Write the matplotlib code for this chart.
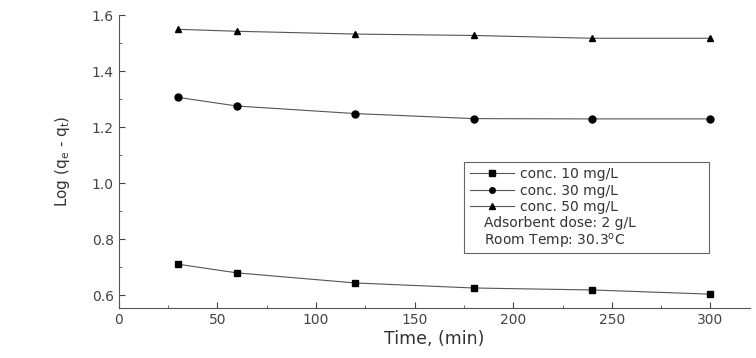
import matplotlib.pyplot as plt
from matplotlib.patches import Rectangle
from matplotlib.ticker import MultipleLocator

# data
time_min = [30, 60, 120, 180, 240, 300]
conc10 = [0.710, 0.679, 0.643, 0.625, 0.618, 0.603]
conc30 = [1.306, 1.275, 1.248, 1.230, 1.229, 1.229]
conc50 = [1.549, 1.542, 1.532, 1.527, 1.517, 1.517]
labels = ['conc. 10 mg/L', 'conc. 30 mg/L', 'conc. 50 mg/L']
notes = ['Adsorbent dose: 2 g/L', 'Room Temp: 30.3$^{\\mathregular{o}}$C']

plt.rcParams['font.family'] = ['DejaVu Sans']

fig = plt.figure(figsize=(7.56, 3.58), dpi=100)
ax = fig.add_axes([0.157, 0.140, 0.835, 0.818])

markers = ['s', 'o', '^']
for y, lab, m in zip([conc10, conc30, conc50], labels, markers):
    ax.plot(time_min, y, color='#555555', lw=0.8, marker=m, ms=5,
            mfc='black', mec='black', label=lab)

ax.set_xlim(0, 320)
ax.set_ylim(0.554, 1.6)
ax.xaxis.set_major_locator(MultipleLocator(50))
ax.xaxis.set_minor_locator(MultipleLocator(25))
ax.yaxis.set_major_locator(MultipleLocator(0.2))
ax.yaxis.set_minor_locator(MultipleLocator(0.1))
ax.yaxis.set_major_formatter(plt.FormatStrFormatter('%.1f'))
ax.tick_params(which='both', direction='in', labelsize=10, colors='#444444')
ax.tick_params(which='major', length=4)
ax.tick_params(which='minor', length=2)
for s in ['top', 'right']:
    ax.spines[s].set_visible(False)
for s in ['left', 'bottom']:
    ax.spines[s].set_color('#555555')

ax.set_xlabel('Time, (min)', fontsize=12.5, color='#333333', labelpad=2)
ax.set_ylabel('Log (q$_\\mathregular{e}$ - q$_\\mathregular{t}$)', fontsize=11,
              color='#333333', labelpad=14)

# legend box with the experiment notes
ax.add_patch(Rectangle((0.547, 0.188), 0.388, 0.310, transform=ax.transAxes,
                       fill=False, ec='#666666', lw=0.8))
ax.legend(loc='upper left', bbox_to_anchor=(0.552, 0.49), frameon=False,
          fontsize=10, handlelength=3.2, handletextpad=0.4, labelspacing=0.18,
          borderaxespad=0, borderpad=0.2, markerscale=0.8, labelcolor='#333333')
for i, t in enumerate(notes):
    ax.text(0.578, 0.29 - i * 0.062, t, transform=ax.transAxes,
            fontsize=10, color='#333333', va='center')

fig.savefig('out.png', dpi=100)
